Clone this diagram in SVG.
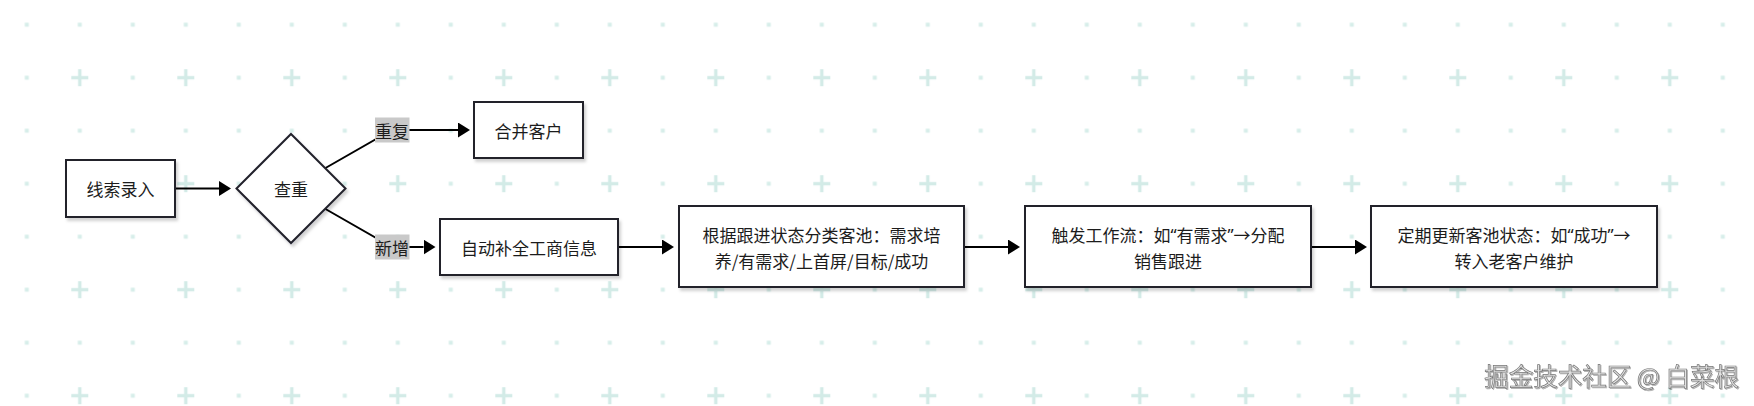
<svg xmlns="http://www.w3.org/2000/svg" width="1754" height="406" viewBox="0 0 1754 406">
<style>
.node{fill:#ffffff;stroke:#22202c;stroke-width:2;}
.t{font-family:"Noto Sans CJK SC","Noto Sans",sans-serif;font-size:17px;fill:#1c1c1c;text-anchor:middle;dominant-baseline:central;}
.q{font-family:"Noto Sans","DejaVu Sans",sans-serif;}
.edge{fill:none;stroke:#000000;stroke-width:2;}
.lbl{fill:#c9c9c9;}
.wm{font-family:"Noto Sans CJK SC","Noto Sans",sans-serif;font-size:24.5px;fill:#e2e2e2;stroke:#777777;stroke-width:0.7;text-anchor:end;}
</style>
<defs>
<pattern id="grid" x="0.3" y="-1.8" width="106" height="106" patternUnits="userSpaceOnUse">
<rect x="24.5" y="24.5" width="4" height="4" fill="#d7eeea"/>
<rect x="77.5" y="24.5" width="4" height="4" fill="#d7eeea"/>
<rect x="24.5" y="77.5" width="4" height="4" fill="#d7eeea"/>
<rect x="71" y="77.8" width="17" height="3.4" fill="#d3ebe7"/>
<rect x="77.8" y="71" width="3.4" height="17" fill="#d3ebe7"/>
</pattern>
<filter id="sh" x="-10%" y="-10%" width="130%" height="140%">
<feDropShadow dx="2" dy="3" stdDeviation="1.5" flood-color="#000" flood-opacity="0.18"/>
</filter>
<filter id="wsh" x="-5%" y="-20%" width="110%" height="150%">
<feDropShadow dx="1" dy="1" stdDeviation="0.6" flood-color="#000" flood-opacity="0.3"/>
</filter>
<marker id="arr" viewBox="0 0 12 15" refX="0" refY="7.5" markerWidth="12" markerHeight="15" markerUnits="userSpaceOnUse" orient="auto">
<path d="M0,0 L12,7.5 L0,15 z" fill="#000"/>
</marker>
</defs>
<rect width="1754" height="406" fill="#ffffff"/>
<rect width="1754" height="406" fill="url(#grid)"/>

<g id="connectors">
<path class="edge" d="M176,188.5 L219,188.5" marker-end="url(#arr)"/>
<path class="edge" d="M325.5,168 L392,130 L458,130" marker-end="url(#arr)"/>
<path class="edge" d="M325.5,209 L392,247 L423.5,247" marker-end="url(#arr)"/>
<path class="edge" d="M618,247 L662,247" marker-end="url(#arr)"/>
<path class="edge" d="M964,247 L1008,247" marker-end="url(#arr)"/>
<path class="edge" d="M1311,247 L1355,247" marker-end="url(#arr)"/>
<rect class="lbl" x="375" y="117.5" width="34.5" height="25"/>
<text class="t" x="392" y="130">重复</text>
<rect class="lbl" x="375" y="234.5" width="34.5" height="25"/>
<text class="t" x="392" y="247">新增</text>
</g>

<g id="n1">
<rect class="node" x="66" y="160" width="109" height="57" filter="url(#sh)"/>
<text class="t" x="120.5" y="188.5">线索录入</text>
</g>
<g id="n2">
<polygon class="node" points="291,134 345.5,188.5 291,243 236.5,188.5" filter="url(#sh)"/>
<text class="t" x="291" y="188.5">查重</text>
</g>
<g id="n3">
<rect class="node" x="474" y="102" width="109" height="56" filter="url(#sh)"/>
<text class="t" x="528.5" y="130">合并客户</text>
</g>
<g id="n4">
<rect class="node" x="440" y="219" width="178" height="56" filter="url(#sh)"/>
<text class="t" x="529" y="247">自动补全工商信息</text>
</g>
<g id="n5">
<rect class="node" x="679" y="206" width="285" height="81" filter="url(#sh)"/>
<text class="t" x="821.5" y="234">根据跟进状态分类客池：需求培</text>
<text class="t" x="821.5" y="260">养/有需求/上首屏/目标/成功</text>
</g>
<g id="n6">
<rect class="node" x="1025" y="206" width="286" height="81" filter="url(#sh)"/>
<text class="t" x="1168" y="234">触发工作流：如<tspan class="q">“</tspan>有需求<tspan class="q">”</tspan>→分配</text>
<text class="t" x="1168" y="260">销售跟进</text>
</g>
<g id="n7">
<rect class="node" x="1371" y="206" width="286" height="81" filter="url(#sh)"/>
<text class="t" x="1514" y="234">定期更新客池状态：如<tspan class="q">“</tspan>成功<tspan class="q">”</tspan>→</text>
<text class="t" x="1514" y="260">转入老客户维护</text>
</g>

<text class="wm" x="1739" y="386" filter="url(#wsh)">掘金技术社区 @ 白菜根</text>
</svg>
